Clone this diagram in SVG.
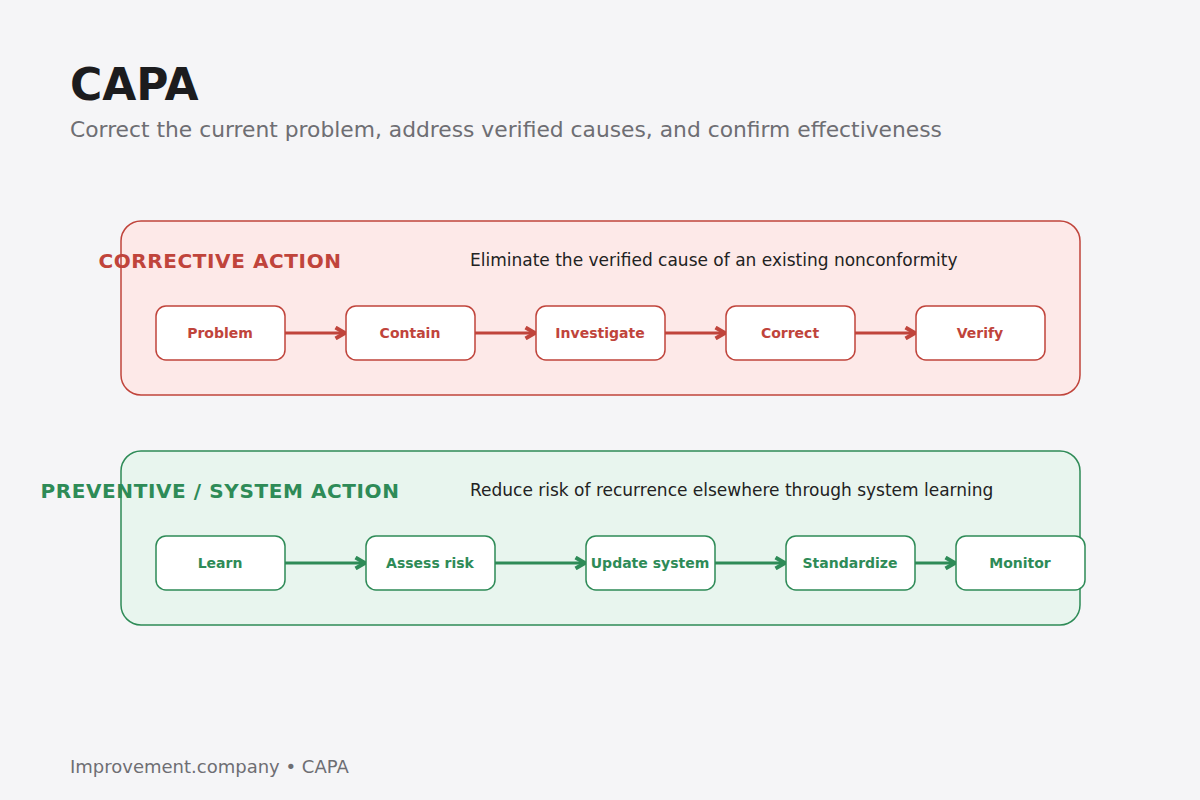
<svg xmlns="http://www.w3.org/2000/svg" width="1200" height="800" viewBox="0 0 1200 800">
<defs>
<style>
text{font-family:"DejaVu Sans",sans-serif}
.n{fill:#fff;stroke-width:1.5}
.r .n{stroke:#c0443b}.g .n{stroke:#2e8b57}
.nt{font-size:14px;font-weight:bold;text-anchor:middle}
.r text{fill:#c0443b}.g text{fill:#2e8b57}
.lab{font-size:20px;font-weight:bold;text-anchor:middle;letter-spacing:0.6px}
.desc{font-size:17px;fill:#222}
</style>
<marker id="ar" viewBox="0 0 10 10" refX="8" refY="5" markerWidth="4.5" markerHeight="4.5" orient="auto"><path d="M1,1 L8,5 L1,9" fill="none" stroke="#c0443b" stroke-width="3"/></marker>
<marker id="ag" viewBox="0 0 10 10" refX="8" refY="5" markerWidth="4.5" markerHeight="4.5" orient="auto"><path d="M1,1 L8,5 L1,9" fill="none" stroke="#2e8b57" stroke-width="3"/></marker>
</defs>
<rect width="1200" height="800" fill="#f5f5f7"/>
<text x="70" y="100" font-size="44" font-weight="bold" fill="#1c1c1e">CAPA</text>
<text x="70" y="137" font-size="21.8" fill="#6e6e73">Correct the current problem, address verified causes, and confirm effectiveness</text>
<g id="panel-corrective" class="r">
<rect x="121" y="221" width="959" height="174" rx="20" fill="#fde9e8" stroke="#c0443b" stroke-width="1.5"/>
<text class="lab" x="220" y="268">CORRECTIVE ACTION</text>
<text class="desc" x="470" y="266" style="fill:#222">Eliminate the verified cause of an existing nonconformity</text>
</g>
<g id="panel-preventive" class="g">
<rect x="121" y="451" width="959" height="174" rx="20" fill="#e8f5ee" stroke="#2e8b57" stroke-width="1.5"/>
<text class="lab" x="220" y="498">PREVENTIVE / SYSTEM ACTION</text>
<text class="desc" x="470" y="496" style="fill:#222">Reduce risk of recurrence elsewhere through system learning</text>
</g>
<g id="connectors" stroke-width="3">
<g stroke="#c0443b" marker-end="url(#ar)">
<line x1="285" y1="333" x2="345" y2="333"/>
<line x1="475" y1="333" x2="535" y2="333"/>
<line x1="665" y1="333" x2="725" y2="333"/>
<line x1="855" y1="333" x2="915" y2="333"/>
</g>
<g stroke="#2e8b57" marker-end="url(#ag)">
<line x1="285" y1="563" x2="365" y2="563"/>
<line x1="495" y1="563" x2="585" y2="563"/>
<line x1="715" y1="563" x2="785" y2="563"/>
<line x1="915" y1="563" x2="955" y2="563"/>
</g>
</g>
<g class="r">
<g id="n-problem"><rect class="n" x="156" y="306" width="129" height="54" rx="10"/><text class="nt" x="220" y="338">Problem</text></g>
<g id="n-contain"><rect class="n" x="346" y="306" width="129" height="54" rx="10"/><text class="nt" x="410" y="338">Contain</text></g>
<g id="n-investigate"><rect class="n" x="536" y="306" width="129" height="54" rx="10"/><text class="nt" x="600" y="338">Investigate</text></g>
<g id="n-correct"><rect class="n" x="726" y="306" width="129" height="54" rx="10"/><text class="nt" x="790" y="338">Correct</text></g>
<g id="n-verify"><rect class="n" x="916" y="306" width="129" height="54" rx="10"/><text class="nt" x="980" y="338">Verify</text></g>
</g>
<g class="g">
<g id="n-learn"><rect class="n" x="156" y="536" width="129" height="54" rx="10"/><text class="nt" x="220" y="568">Learn</text></g>
<g id="n-assess"><rect class="n" x="366" y="536" width="129" height="54" rx="10"/><text class="nt" x="430" y="568">Assess risk</text></g>
<g id="n-update"><rect class="n" x="586" y="536" width="129" height="54" rx="10"/><text class="nt" x="650" y="568">Update system</text></g>
<g id="n-standardize"><rect class="n" x="786" y="536" width="129" height="54" rx="10"/><text class="nt" x="850" y="568">Standardize</text></g>
<g id="n-monitor"><rect class="n" x="956" y="536" width="129" height="54" rx="10"/><text class="nt" x="1020" y="568">Monitor</text></g>
</g>
<text x="70" y="773" font-size="18" fill="#6e6e73">Improvement.company • CAPA</text>
</svg>
